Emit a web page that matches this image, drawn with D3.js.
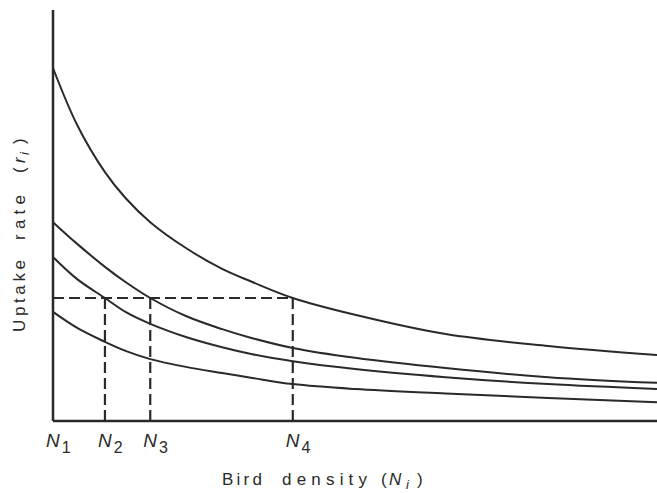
<!DOCTYPE html>
<html>
<head>
<meta charset="utf-8">
<script src="https://cdn.jsdelivr.net/npm/d3@7"></script>
<style>
  html, body { margin: 0; padding: 0; background: #fff; }
  svg { display: block; }
  text { font-family: "Liberation Sans", "DejaVu Sans", sans-serif; fill: #2a2a2a; }
</style>
</head>
<body>
<div id="chart"></div>
<script>
// ---- data ----
const density = [0, 4, 8.6, 12, 16.1, 22, 28, 33, 39.7, 50, 65, 82, 100];
const curve1  = [86.1, 72.2, 60.7, 54.4, 48.5, 42.2, 37.1, 33.9, 30.0, 25.9, 21.2, 18.3, 16.1];
const curve2  = [48.5, 43.2, 37.6, 33.9, 30.0, 25.6, 22.4, 20.2, 17.8, 15.4, 12.9, 10.7, 9.3];
const curve3  = [40.0, 34.6, 30.0, 26.6, 23.7, 20.5, 18.0, 16.3, 14.6, 12.7, 10.7, 9.0, 7.8];
const curve4  = [26.6, 22.7, 19.3, 17.1, 15.1, 13.2, 11.7, 10.5, 9.0, 7.8, 6.7, 5.6, 4.6];
const tickNames = ["1", "2", "3", "4"];
const tickDensity = [0, 8.6, 16.1, 39.7];
const referenceRate = 30;
const xLabelWords = ["Bird", "density"];
const yLabelWords = ["Uptake", "rate"];

const W = 657, H = 493;
const ink = "#2a2a2a";

const svg = d3.select("#chart").append("svg")
  .attr("width", W).attr("height", H);

const x = d3.scaleLinear().domain([0, 100]).range([53, 657]);
const y = d3.scaleLinear().domain([0, 100]).range([421, 11]);

// dashed reference lines
const dash = svg.append("g")
  .attr("stroke", ink).attr("stroke-width", 2.2).attr("fill", "none")
  .attr("stroke-dasharray", "11,5");
dash.append("line")
  .attr("x1", x(0)).attr("x2", x(tickDensity[3]))
  .attr("y1", y(referenceRate)).attr("y2", y(referenceRate));
tickDensity.slice(1).forEach(d => {
  dash.append("line")
    .attr("x1", x(d)).attr("x2", x(d))
    .attr("y1", y(referenceRate)).attr("y2", y(0));
});

// curves
const line = d3.line()
  .x((d, i) => x(density[i]))
  .y(d => y(d))
  .curve(d3.curveCatmullRom.alpha(0.5));
[curve1, curve2, curve3, curve4].forEach(c => {
  svg.append("path").datum(c)
    .attr("d", line)
    .attr("fill", "none")
    .attr("stroke", ink)
    .attr("stroke-width", 2);
});

// axes
const xAxis = d3.axisBottom(x).tickValues(tickDensity).tickSize(0).tickFormat("");
const yAxis = d3.axisLeft(y).tickValues([]).tickSize(0);
svg.append("g").attr("transform", `translate(0,${y(0)})`).call(xAxis)
  .call(g => g.select(".domain").attr("stroke", ink).attr("stroke-width", 2.5)
    .attr("d", `M${x(0)},0H${x(100)}`));
svg.append("g").attr("transform", `translate(${x(0)},0)`).call(yAxis)
  .call(g => g.select(".domain").attr("stroke", ink).attr("stroke-width", 2.5)
    .attr("d", `M0,10V${y(0)}`));

// tick labels N1..N4
tickDensity.forEach((d, i) => {
  const t = svg.append("text")
    .attr("x", x(d) - 7).attr("y", 447)
    .style("font-size", "19px");
  t.append("tspan").text("N").style("font-style", "italic");
  t.append("tspan").text(tickNames[i]).attr("dy", 6).attr("dx", 2).style("font-size", "16px");
});

// x axis title
const xg = svg.append("g").style("font-size", "17px");
xg.append("text").attr("x", 222).attr("y", 485).text(xLabelWords[0])
  .attr("textLength", 40).attr("lengthAdjust", "spacing");
xg.append("text").attr("x", 282).attr("y", 485).text(xLabelWords[1])
  .attr("textLength", 85).attr("lengthAdjust", "spacing");
xg.append("text").attr("x", 381).attr("y", 485).text("(");
xg.append("text").attr("x", 389).attr("y", 485).text("N").style("font-style", "italic");
xg.append("text").attr("x", 406).attr("y", 489).text("i").style("font-style", "italic").style("font-size", "13px");
xg.append("text").attr("x", 417).attr("y", 485).text(")");

// y axis title (rotated)
const yg = svg.append("g").attr("transform", "rotate(-90)").style("font-size", "17px");
yg.append("text").attr("x", -332).attr("y", 25).text(yLabelWords[0])
  .attr("textLength", 72).attr("lengthAdjust", "spacing");
yg.append("text").attr("x", -240).attr("y", 25).text(yLabelWords[1])
  .attr("textLength", 45).attr("lengthAdjust", "spacing");
yg.append("text").attr("x", -173).attr("y", 25).text("(");
yg.append("text").attr("x", -163).attr("y", 25).text("r").style("font-style", "italic");
yg.append("text").attr("x", -155).attr("y", 29).text("i").style("font-style", "italic").style("font-size", "13px");
yg.append("text").attr("x", -144).attr("y", 25).text(")");
</script>
</body>
</html>
